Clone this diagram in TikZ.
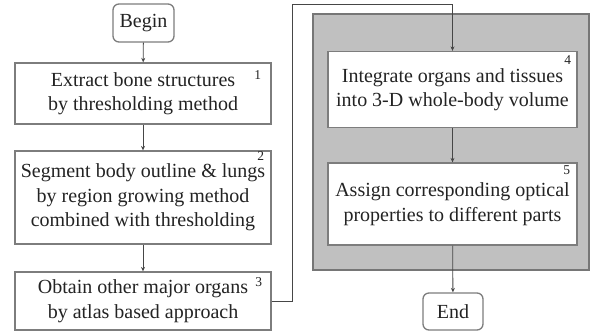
\documentclass[tikz,border=0pt]{standalone}
\usepackage{fontspec}
\setmainfont{Liberation Serif}
\usetikzlibrary{arrows.meta,calc}
\definecolor{boxedge}{RGB}{125,125,125}
\definecolor{panelfill}{RGB}{192,192,192}
\definecolor{paneledge}{RGB}{118,118,118}
\definecolor{ink}{RGB}{35,35,35}
\definecolor{wire}{RGB}{70,70,70}
\begin{document}
\begin{tikzpicture}[x=1pt,y=-1pt,
  stepbox/.style={draw=boxedge, line width=1.3pt, fill=white, align=center,
    text=ink, font=\fontsize{20}{24.5}\selectfont, inner sep=0pt},
  termbox/.style={stepbox, rounded corners=6pt},
  stepnum/.style={text=ink, font=\fontsize{13.5}{13.5}\selectfont, inner sep=0pt},
  flow/.style={draw=wire, line width=0.8pt, -{Stealth[length=4.5pt,width=4pt]}},
]
\useasboundingbox (0,0) rectangle (594,333);

% shaded panel behind steps 4 and 5
\filldraw[fill=panelfill, draw=paneledge, line width=1.3pt] (313,14) rectangle (589,270);

% left column
\node[termbox, minimum width=61pt, minimum height=38pt] (begin) at (143.5,23) {Begin};
\node[stepbox, minimum width=256pt, minimum height=61pt] (s1) at (143,93.5)
  {Extract bone structures\\by thresholding method};
\node[stepbox, minimum width=256pt, minimum height=93pt] (s2) at (143,197.5)
  {Segment body outline \& lungs\\by region growing method\\combined with thresholding};
\node[stepbox, minimum width=256pt, minimum height=58pt] (s3) at (143,301)
  {Obtain other major organs\\by atlas based approach};

% right column
\node[stepbox, minimum width=249pt, minimum height=76pt] (s4) at (452.5,89.5)
  {Integrate organs and tissues\\into 3-D whole-body volume};
\node[stepbox, minimum width=249pt, minimum height=82pt] (s5) at (452.5,204)
  {Assign corresponding optical\\properties to different parts};
\node[termbox, minimum width=60pt, minimum height=37pt] (end) at (453,311.5) {End};

% step numbers
\node[stepnum] (n1) at ($(s1.north east)+(-14,13)$) {1};
\node[stepnum] (n2) at ($(s2.north east)+(-11,5.5)$) {2};
\node[stepnum] (n3) at ($(s3.north east)+(-13,11)$) {3};
\node[stepnum] (n4) at ($(s4.north east)+(-10,9)$) {4};
\node[stepnum] (n5) at ($(s5.north east)+(-11,8)$) {5};

% connectors
\draw[flow] (begin) -- (s1);
\draw[flow] (s1) -- (s2);
\draw[flow] (s2) -- (s3);
\coordinate (turn) at (292,4);
\draw[flow] (s3.east) -| (turn) -| (s4.north);
\draw[flow] (s4) -- (s5);
\draw[flow] (s5) -- (end);
\end{tikzpicture}
\end{document}
